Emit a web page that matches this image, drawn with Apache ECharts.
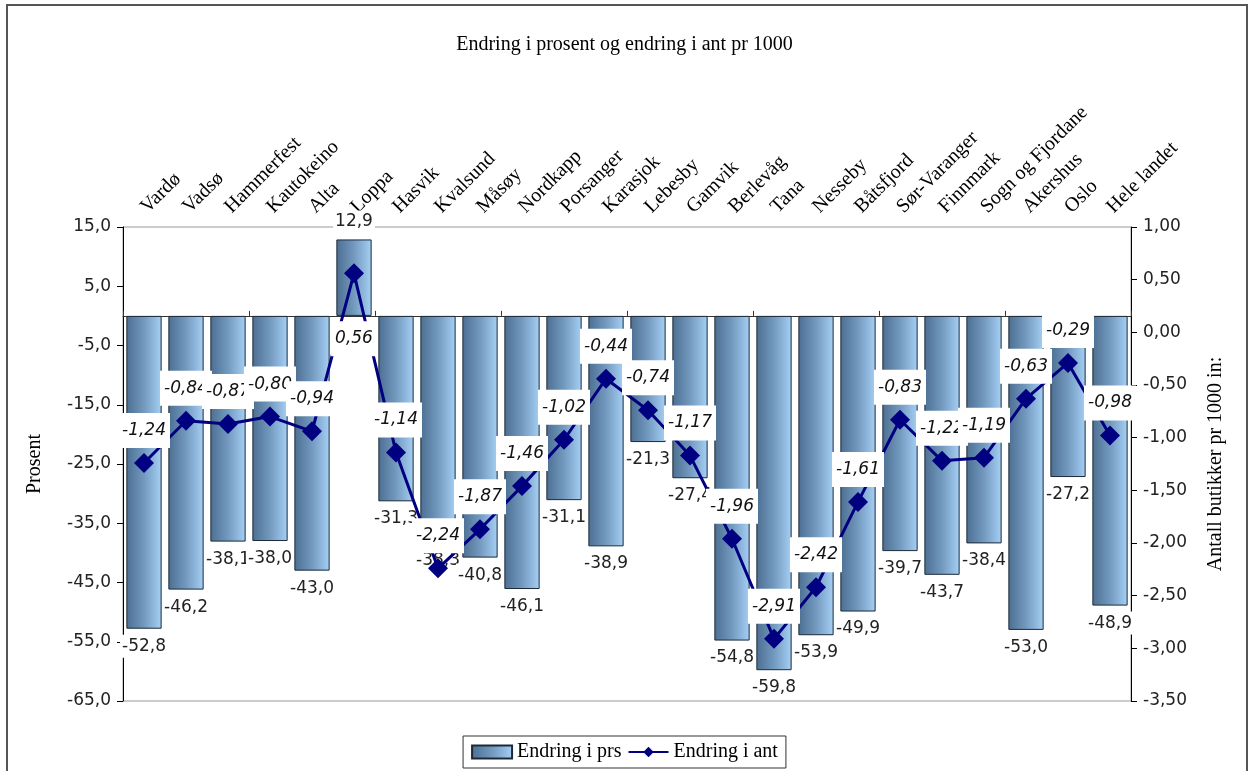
<!DOCTYPE html>
<html>
<head>
<meta charset="utf-8">
<script src="https://cdn.jsdelivr.net/npm/echarts@6/dist/echarts.min.js"></script>
<style>
  html, body { margin: 0; padding: 0; background: #fff; }
  #chart { width: 1249px; height: 771px; }
</style>
</head>
<body>
<div id="chart"></div>
<script>
// kommuner / regioner
const categories = ['Vardø', 'Vadsø', 'Hammerfest', 'Kautokeino', 'Alta', 'Loppa', 'Hasvik', 'Kvalsund',
  'Måsøy', 'Nordkapp', 'Porsanger', 'Karasjok', 'Lebesby', 'Gamvik', 'Berlevåg', 'Tana', 'Nesseby',
  'Båtsfjord', 'Sør-Varanger', 'Finnmark', 'Sogn og Fjordane', 'Akershus', 'Oslo', 'Hele landet'];

// endring i prosent
const endringPrs = [-52.8, -46.2, -38.1, -38.0, -43.0, 12.9, -31.3, -38.3, -40.8, -46.1, -31.1, -38.9,
  -21.3, -27.4, -54.8, -59.8, -53.9, -49.9, -39.7, -43.7, -38.4, -53.0, -27.2, -48.9];

// endring i antall pr 1000 innbyggere
const endringAnt = [-1.24, -0.84, -0.87, -0.80, -0.94, 0.56, -1.14, -2.24, -1.87, -1.46, -1.02, -0.44,
  -0.74, -1.17, -1.96, -2.91, -2.42, -1.61, -0.83, -1.22, -1.19, -0.63, -0.29, -0.98];

const serif = '"Liberation Serif", "DejaVu Serif", serif';
const sans = '"DejaVu Sans", sans-serif';

const comma = (v, d) => v.toFixed(d).replace('.', ',');

const barFill = new echarts.graphic.LinearGradient(0, 0, 1, 0, [
  { offset: 0, color: '#4c6f92' },
  { offset: 0.5, color: '#7399bf' },
  { offset: 1, color: '#a6d0f5' }
]);

//bar labels go under negative bars, above positive ones
const barData = endringPrs.map(v => ({
  value: v,
  label: { position: v < 0 ? 'bottom' : 'top' }
}));

//positive point gets its label under the marker
const lineData = endringAnt.map(v => (v > 0
  ? { value: v, label: { position: 'bottom', distance: 38 } }
  : v));

const chart = echarts.init(document.getElementById('chart'));

chart.setOption({
  animation: false,
  title: {
    text: 'Endring i prosent og endring i ant pr 1000',
    left: 'center',
    top: 30,
    textStyle: { fontFamily: serif, fontSize: 20, fontWeight: 'normal', color: '#000' }
  },
  graphic: [{
    type: 'rect',
    shape: { x: 7, y: 5, width: 1240, height: 800 },
    style: { fill: 'none', stroke: '#555', lineWidth: 2 },
    silent: true
  }],
  legend: {
    bottom: 3,
    left: 'center',
    padding: [6, 8],
    borderColor: '#333',
    borderWidth: 1,
    itemWidth: 40,
    itemHeight: 13,
    itemGap: 6,
    textStyle: { fontFamily: serif, fontSize: 20, color: '#000' },
    data: [{ name: 'Endring i prs', icon: 'rect' }, { name: 'Endring i ant' }]
  },
  grid: {
    left: 123,
    right: 118,
    top: 227,
    bottom: 70,
    show: true,
    borderColor: '#999',
    borderWidth: 1
  },
  xAxis: [{
    type: 'category',
    data: categories,
    position: 'top',
    axisLine: { show: false, onZero: false },
    axisTick: { show: false },
    axisLabel: {
      rotate: -45,
      margin: 17,
      interval: 0,
      fontFamily: serif,
      fontSize: 20,
      color: '#000'
    }
  }, {
    // zero line with category ticks
    type: 'category',
    data: categories,
    position: 'bottom',
    axisLine: { show: true, onZero: true, onZeroAxisIndex: 0, lineStyle: { color: '#333', width: 1 } },
    axisTick: { show: true, length: 5, inside: true, lineStyle: { color: '#333' } },
    axisLabel: { show: false }
  }],
  yAxis: [{
    type: 'value',
    min: -65,
    max: 15,
    interval: 10,
    name: 'Prosent',
    nameLocation: 'middle',
    nameGap: 78,
    nameTextStyle: { fontFamily: serif, fontSize: 20, color: '#000' },
    axisLine: { show: true, lineStyle: { color: '#000' } },
    axisTick: { show: true, length: 6, lineStyle: { color: '#000' } },
    axisLabel: {
      margin: 12,
      fontFamily: sans,
      fontSize: 17,
      color: '#222',
      formatter: v => comma(v, 1)
    },
    splitLine: { show: false }
  }, {
    type: 'value',
    min: -3.5,
    max: 1,
    interval: 0.5,
    position: 'right',
    name: 'Antall butikker pr 1000 in:',
    nameLocation: 'middle',
    nameRotate: 90,
    nameGap: 75,
    nameTextStyle: { fontFamily: serif, fontSize: 20, color: '#000' },
    axisLine: { show: true, lineStyle: { color: '#000' } },
    axisTick: { show: true, length: 6, lineStyle: { color: '#000' } },
    axisLabel: {
      margin: 12,
      fontFamily: sans,
      fontSize: 17,
      color: '#222',
      formatter: v => comma(v, 2)
    },
    splitLine: { show: false }
  }],
  series: [{
    name: 'Endring i prs',
    type: 'bar',
    xAxisIndex: 0,
    yAxisIndex: 0,
    data: barData,
    barCategoryGap: '16%',
    itemStyle: { color: barFill, borderColor: '#1c2a38', borderWidth: 1 },
    label: {
      show: true,
      distance: 6,
      fontFamily: sans,
      fontSize: 17,
      color: '#222',
      backgroundColor: '#fff',
      padding: [3, 2],
      formatter: p => comma(p.value, 1)
    },
    z: 2
  }, {
    name: 'Endring i ant',
    type: 'line',
    xAxisIndex: 0,
    yAxisIndex: 1,
    data: lineData,
    symbol: 'diamond',
    symbolSize: 20,
    lineStyle: { color: '#000080', width: 3 },
    itemStyle: { color: '#000080' },
    label: {
      show: true,
      position: 'top',
      distance: 5,
      fontFamily: sans,
      fontStyle: 'italic',
      fontSize: 17,
      color: '#111',
      backgroundColor: '#fff',
      padding: [9, 4],
      formatter: p => comma(p.value, 2)
    },
    z: 3
  }]
});
</script>
</body>
</html>
